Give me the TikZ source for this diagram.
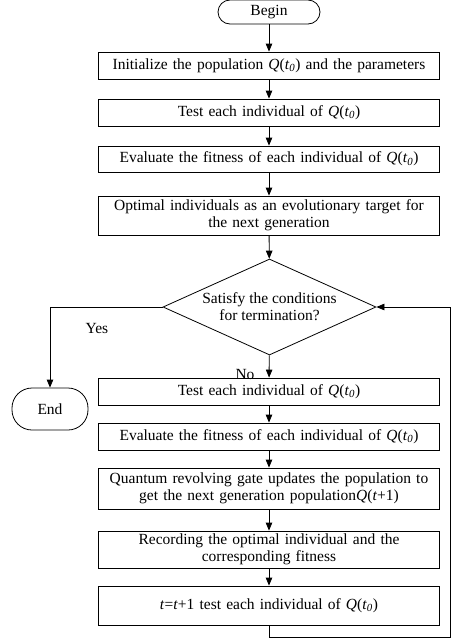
\documentclass[tikz,border=0pt]{standalone}
\usepackage{fontspec}
\setmainfont{Liberation Serif}
\usetikzlibrary{shapes.geometric,arrows.meta}
\newcommand{\Qt}{\textit{Q}(\textit{t}\textsubscript{\textit{0}})}
\begin{document}
\begin{tikzpicture}[x=1pt,y=-1pt,
  every node/.style={font=\fontsize{15.5}{17}\selectfont},
  box/.style={draw,line width=0.8pt,minimum width=341pt,inner sep=1pt,align=center,text width=336pt},
  term/.style={draw,line width=0.8pt,rounded corners=12pt,inner sep=0pt},
  dia/.style={draw,line width=0.8pt,diamond,aspect=2.22,minimum width=213pt,minimum height=96pt,inner sep=0pt,align=center},
  arr/.style={line width=0.8pt,-{Triangle[length=8pt,width=6.5pt]}},
  ln/.style={line width=0.8pt}]
\useasboundingbox (0,0) rectangle (451,640);
\node[term,minimum width=102pt,minimum height=24pt] (begin) at (269,12) {Begin};
\node[box,minimum height=27pt] (b1) at (269,65.5) {Initialize the population \Qt{} and the parameters};
\node[box,minimum height=27pt] (b2) at (269,112.5) {Test each individual of \Qt};
\node[box,minimum height=26pt] (b3) at (269,159) {Evaluate the fitness of each individual of \Qt};
\node[box,minimum height=39pt] (b4) at (269,215.5) {Optimal individuals as an evolutionary target for\\ the next generation};
\node[dia] (d) at (269.5,307) {Satisfy the conditions\\ for termination?};
\node[box,minimum height=27pt] (b5) at (269,391.5) {Test each individual of \Qt};
\node[box,minimum height=27pt] (b6) at (269,436.5) {Evaluate the fitness of each individual of \Qt};
\node[box,minimum height=41pt] (b7) at (269,488.5) {Quantum revolving gate updates the population to\\ get the next generation population\textit{Q}(\textit{t}+1)};
\node[box,minimum height=37pt] (b8) at (269,549.5) {Recording the optimal individual and the\\ corresponding fitness};
\node[box,minimum height=39pt] (b9) at (269,605.5) {\textit{t}=\textit{t}+1 test each individual of \Qt};
\node[term,minimum width=76pt,minimum height=42pt,rounded corners=20pt] (end) at (50,409) {End};
\node (yes) at (97,328) {Yes};
\node (no) at (245,374) {No};
\coordinate (c1) at (450.5,637);
\draw[arr] (begin) -- (b1);
\draw[arr] (b1) -- (b2);
\draw[arr] (b2) -- (b3);
\draw[arr] (b3) -- (b4);
\draw[arr] (b4) -- (d);
\draw[arr] (d) -- (b5);
\draw[arr] (b5) -- (b6);
\draw[arr] (b6) -- (b7);
\draw[arr] (b7) -- (b8);
\draw[arr] (b8) -- (b9);
\draw[arr] (d.west) -| (end.north);
\draw[ln] (b9.south) |- (c1);
\draw[arr] (c1) -- (c1 |- d.east) -- (d.east);
\end{tikzpicture}
\end{document}
